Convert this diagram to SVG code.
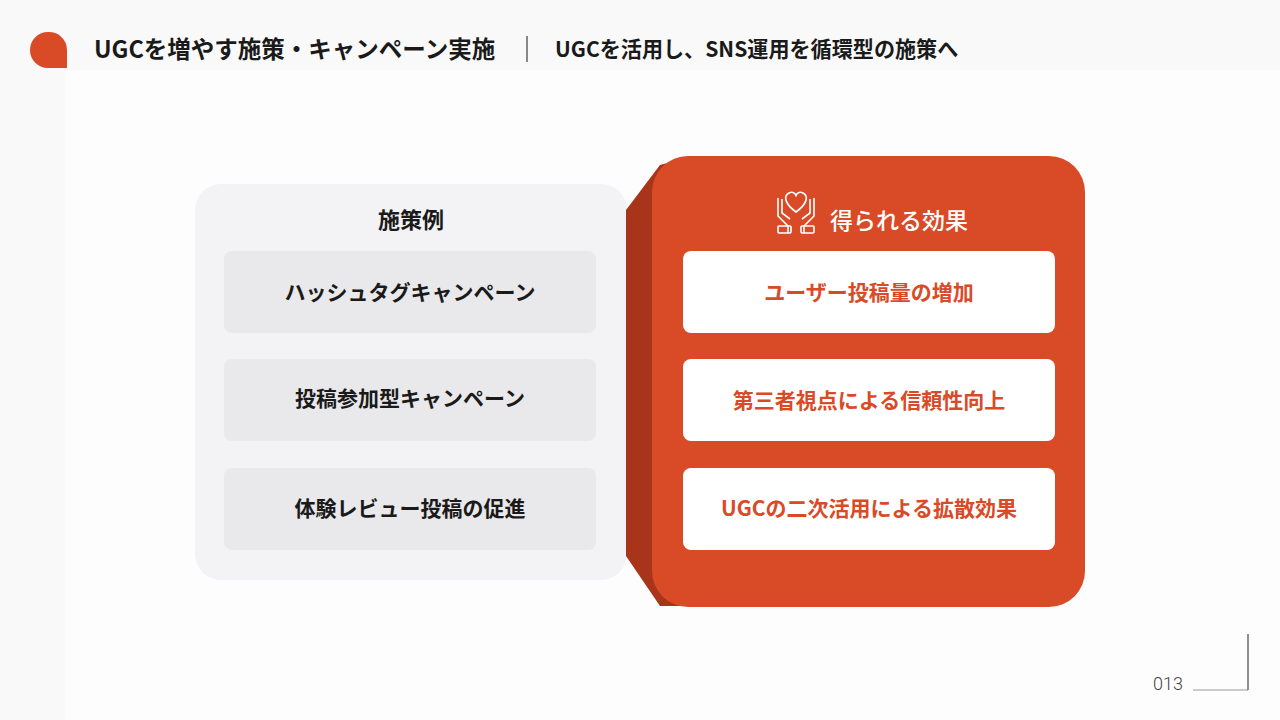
<svg xmlns="http://www.w3.org/2000/svg" width="1280" height="720" viewBox="0 0 1280 720">
<style>
text{font-family:"Noto Sans CJK JP","Noto Sans",sans-serif;}
.h{font-size:23.5px;font-weight:700;fill:#1a1a1a;}
.li{fill:#e9e8ea;}
.lt{font-size:21px;font-weight:700;fill:#1a1a1a;text-anchor:middle;}
.rb{fill:#ffffff;}
.rt{font-size:21px;font-weight:700;fill:#d94a27;text-anchor:middle;}
</style>
<rect width="1280" height="720" fill="#f9f9f9"/>
<rect x="65" y="70" width="1215" height="650" fill="#fdfdfd"/>
<path d="M48,32 A18,18 0 0 0 30,50 A18,18 0 0 0 48,68 L67,68 L67,50 A18,18 0 0 0 48,32 Z" fill="#d94a27"/>
<text class="h" x="94" y="58">UGCを増やす施策・キャンペーン実施</text>
<line x1="527" y1="36" x2="527" y2="62" stroke="#888" stroke-width="2"/>
<text class="h" x="555" y="57" style="font-size:21.1px">UGCを活用し、SNS運用を循環型の施策へ</text>
<g id="left">
<rect x="195" y="184" width="432" height="396" rx="26" fill="#f3f2f5"/>
<text x="411" y="228" style="font-size:22px;font-weight:700;fill:#1a1a1a;text-anchor:middle">施策例</text>
</g>
<g id="l1"><rect class="li" x="224" y="251" width="372" height="82" rx="8"/><text class="lt" x="410" y="300">ハッシュタグキャンペーン</text></g>
<g id="l2"><rect class="li" x="224" y="359" width="372" height="82" rx="8"/><text class="lt" x="410" y="406">投稿参加型キャンペーン</text></g>
<g id="l3"><rect class="li" x="224" y="468" width="372" height="82" rx="8"/><text class="lt" x="410" y="516">体験レビュー投稿の促進</text></g>
<g id="right">
<path d="M626,210 L660,165 L690,157 L690,606 L660,606 L626,556 Z" fill="#a83419"/>
<rect x="652" y="156" width="433" height="451" rx="36" fill="#d94a27"/>
<g fill="none" stroke="#fff" stroke-width="1.6" stroke-linejoin="round">
<path d="M796,212 C785,204 783,196 789,193 C793,191 796,194 796,196 C796,194 799,191 803,193 C809,196 807,204 796,212 Z"/>
<path d="M778,198 L778,216 L788,226 L788,233 M782,199 L782,213 L790,219"/>
<path d="M814,198 L814,216 L804,226 L804,233 M810,199 L810,213 L802,219"/>
<rect x="778" y="226" width="13" height="7" rx="1"/>
<rect x="801" y="226" width="13" height="7" rx="1"/>
</g>
<text x="830" y="229" style="font-size:23px;font-weight:500;fill:#fff">得られる効果</text>
</g>
<g id="r1"><rect class="rb" x="683" y="251" width="372" height="82" rx="8"/><text class="rt" x="869" y="300">ユーザー投稿量の増加</text></g>
<g id="r2"><rect class="rb" x="683" y="359" width="372" height="82" rx="8"/><text class="rt" x="869" y="408">第三者視点による信頼性向上</text></g>
<g id="r3"><rect class="rb" x="683" y="468" width="372" height="82" rx="8"/><text class="rt" x="869" y="516">UGCの二次活用による拡散効果</text></g>
<text x="1153" y="690" style="font-family:Roboto,sans-serif;font-size:18px;font-weight:300;fill:#444">013</text>
<line x1="1193" y1="690" x2="1248" y2="690" stroke="#999" stroke-width="1"/>
<line x1="1248" y1="634" x2="1248" y2="690" stroke="#222" stroke-width="1"/>
</svg>
